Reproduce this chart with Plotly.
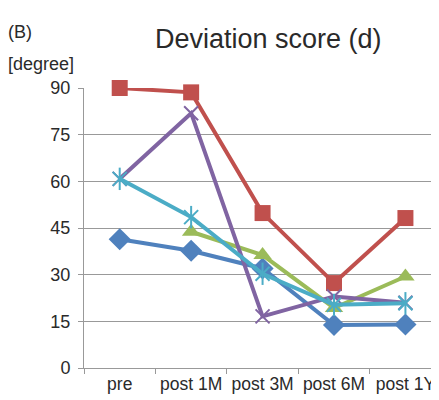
import plotly.graph_objects as go

categories = ["pre", "post 1M", "post 3M", "post 6M", "post 1Y"]
y_ticks = [0, 15, 30, 45, 60, 75, 90]

s_blue = [41.4, 37.7, 32.0, 13.8, 14.0]
s_red = [90.0, 88.6, 49.8, 27.3, 48.2]
s_green = [None, 43.8, 36.3, 19.3, 29.4]
s_purple = [60.8, 81.9, 16.6, 23.0, 21.0]
s_cyan = [60.8, 48.5, 30.3, 20.3, 20.8]

fig = go.Figure()

def add(vals, color, symbol, size, open_marker=False):
    marker = dict(symbol=symbol, size=size, color=color)
    if open_marker:
        marker["line"] = dict(color=color, width=2)
    fig.add_trace(go.Scatter(
        x=categories, y=vals, mode="lines+markers",
        line=dict(color=color, width=4),
        marker=marker, cliponaxis=False, connectgaps=False,
        showlegend=False,
    ))

add(s_blue, "#4F81BD", "diamond", 17)
add(s_red, "#C0504D", "square", 16)
add(s_green, "#9BBB59", "triangle-up", 16)
add(s_purple, "#8064A2", "x-thin-open", 14, True)
add(s_cyan, "#4BACC6", "x-thin-open", 14, True)
fig.add_trace(go.Scatter(
    x=categories, y=s_cyan, mode="markers",
    marker=dict(symbol="line-ns-open", size=16, color="#4BACC6",
                line=dict(color="#4BACC6", width=2)),
    cliponaxis=False, showlegend=False,
))

# page body has an 8px margin; compensate so the plot lands where the reference has it
OFF = 8
W, H = 439 - OFF, 400 - OFF
L, R, T = 84 - OFF, 0, 88 - OFF
B = H - (368 - OFF)
pw = W - L - R
ph = H - T - B

def px_to_paper(px, py):
    # px, py are window pixel positions
    return (px - OFF - L) / pw, (H - B - (py - OFF)) / ph

tx, ty = px_to_paper(268, 22)
bx, by = px_to_paper(6, 20)
dx, dy = px_to_paper(6, 52)

fig.update_layout(
    width=W, height=H,
    margin=dict(l=L, r=R, t=T, b=B, autoexpand=False),
    paper_bgcolor="white", plot_bgcolor="white",
    font=dict(family="Liberation Sans, Arial, sans-serif", size=18, color="#2a2a2a"),
    xaxis=dict(
        type="category", range=[-0.5, 4.47], automargin=False, tickangle=0,
        showgrid=False, showline=True, linecolor="#999999", linewidth=1,
        ticks="outside", tickson="boundaries", ticklen=5, tickcolor="#999999",
        tickfont=dict(size=17.5, color="#2a2a2a"),
    ),
    yaxis=dict(
        range=[0, 90], tickvals=y_ticks, automargin=False,
        showgrid=True, gridcolor="#999999", gridwidth=1,
        showline=True, linecolor="#999999", linewidth=1,
        ticks="outside", ticklen=5, tickcolor="#999999",
        tickfont=dict(size=18, color="#2a2a2a"),
        zeroline=False, ticklabelstandoff=4,
    ),
    annotations=[
        dict(text="Deviation score (d)", x=tx, y=ty, xref="paper", yref="paper",
             showarrow=False, font=dict(size=27, color="#2a2a2a")),
        dict(text="(B)", x=bx, y=by, xref="paper", yref="paper", showarrow=False,
             xanchor="left", font=dict(size=18, color="#2a2a2a")),
        dict(text="[degree]", x=dx, y=dy, xref="paper", yref="paper", showarrow=False,
             xanchor="left", font=dict(size=18, color="#2a2a2a")),
    ],
)

fig.write_html("out.html")
